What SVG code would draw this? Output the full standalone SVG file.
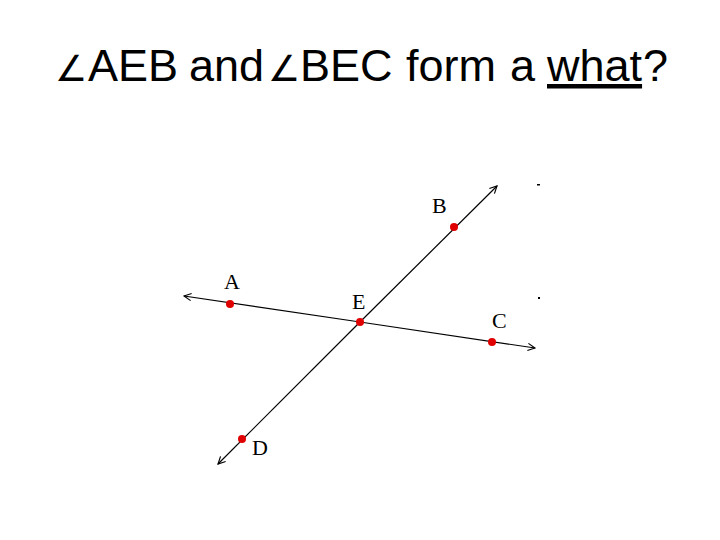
<svg xmlns="http://www.w3.org/2000/svg" width="720" height="540" viewBox="0 0 720 540">
<defs>
<style>
.title{font-family:"Liberation Sans",Arial,sans-serif;font-size:45px;fill:#000}
.lbl{font-family:"Liberation Serif","Times New Roman",serif;font-size:22px;fill:#000}
.ln{stroke:#000;stroke-width:1.2;fill:none}
.pt{fill:#e00000}
</style>
<marker id="arr" viewBox="0 0 10 10" refX="9" refY="5" markerWidth="9" markerHeight="9" orient="auto" markerUnits="userSpaceOnUse">
<path d="M1,1 L9,5 L1,9" fill="none" stroke="#000" stroke-width="1.3"/>
</marker>
</defs>
<rect width="720" height="540" fill="#fff"/>
<g id="title">
<text class="title" y="81"><tspan x="55" font-size="36">∠</tspan><tspan x="88">AEB</tspan><tspan x="189">and</tspan><tspan x="268" font-size="36">∠</tspan><tspan x="300">BEC</tspan><tspan x="406">form</tspan><tspan x="510">a</tspan><tspan x="547" text-decoration="underline">what</tspan><tspan x="643">?</tspan></text>
</g>
<g id="connectors">
<line class="ln" x1="360" y1="322" x2="184" y2="296" marker-end="url(#arr)"/>
<line class="ln" x1="360" y1="322" x2="535" y2="348" marker-end="url(#arr)"/>
<line class="ln" x1="360" y1="322" x2="497" y2="186" marker-end="url(#arr)"/>
<line class="ln" x1="360" y1="322" x2="218" y2="464" marker-end="url(#arr)"/>
</g>
<g id="A"><circle class="pt" cx="230" cy="304" r="4"/><text class="lbl" x="224" y="289">A</text></g>
<g id="B"><circle class="pt" cx="454" cy="227" r="4"/><text class="lbl" x="432" y="213">B</text></g>
<g id="E"><circle class="pt" cx="360" cy="322" r="4"/><text class="lbl" x="352" y="309">E</text></g>
<g id="C"><circle class="pt" cx="492" cy="342" r="4"/><text class="lbl" x="492" y="328">C</text></g>
<g id="D"><circle class="pt" cx="242" cy="439" r="4"/><text class="lbl" x="252" y="455">D</text></g>
<rect x="537" y="184" width="3" height="1.5" fill="#000"/>
<rect x="538" y="297" width="2" height="2" fill="#000"/>
</svg>
